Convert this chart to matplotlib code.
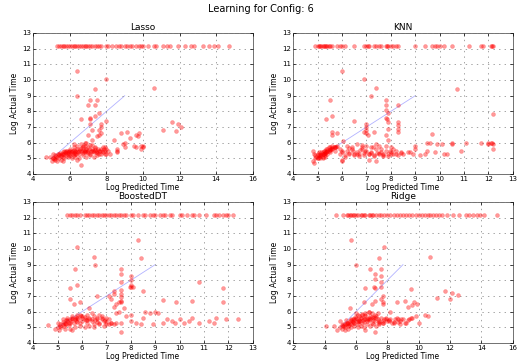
import matplotlib
matplotlib.use("Agg")
import matplotlib.pyplot as plt

plt.style.use("classic")

TIMEOUT = 12.2  # log time of runs that hit the limit

# --- Lasso ---
lasso_top_x = [5.3, 5.4, 5.5, 5.6, 5.7, 5.8, 5.9, 6.0, 6.1, 6.2, 6.3, 6.4, 6.5, 6.6,
               6.7, 6.8, 6.9, 7.0, 7.1, 7.2, 7.4, 7.5, 7.6, 7.7, 8.0, 8.1, 8.3, 8.5,
               8.7, 8.8, 9.0, 9.1, 9.3, 9.4, 9.6, 9.8, 9.9, 10.0, 10.3, 10.6, 10.7,
               11.1, 11.3, 11.5, 11.9, 12.3, 12.6, 12.8, 13.3, 13.6, 13.9, 14.1, 14.7]
lasso_x = [6.4, 8.0, 10.6, 7.4, 6.4, 7.1, 7.5, 7.0, 7.4, 7.6, 7.4, 7.1, 7.1, 6.6, 8.0,
           7.1, 7.7, 7.7, 7.6, 7.7, 7.6, 7.5, 7.2, 7.0, 11.6, 11.9, 12.1, 11.8, 11.1,
           9.6, 9.7, 9.8, 9.1, 8.8, 9.3, 7.2, 8.4, 10.0, 9.0, 8.6, 9.6, 9.9, 7.9, 8.2,
           6.6, 6.2, 6.9,
           5.0, 5.1, 5.2, 5.3, 5.4, 5.5, 5.6, 5.7, 5.8, 5.9, 6.0, 6.1, 6.2, 6.3, 6.4,
           6.5, 6.6, 6.7, 6.8, 6.9, 7.0, 7.1, 7.2, 7.3, 7.4, 7.5, 7.6, 7.7, 7.8, 7.9,
           8.0, 5.2, 5.4, 5.6, 5.8, 6.0, 6.2, 6.4, 6.6, 6.8, 5.5, 5.7, 5.9, 6.1, 6.3,
           6.5, 6.7, 6.9, 7.1, 7.3, 7.5, 7.7, 5.3, 5.6, 6.4, 6.5, 6.0, 5.9, 6.1, 6.3,
           6.7, 7.0, 7.2, 6.8, 4.7, 4.9, 5.1, 7.8, 8.1, 8.6, 8.6, 8.9, 9.0, 9.5, 9.9,
           10.0, 5.05, 5.15, 5.25, 5.35, 5.45, 5.55, 5.65, 5.75, 5.85, 5.95, 6.05,
           6.15, 6.25, 6.35, 6.45, 6.55, 6.65, 6.75, 6.85, 6.95, 7.05, 7.15, 7.25,
           7.35, 7.45, 7.55, 7.65, 7.75, 7.85, 7.95,
           5.2, 5.4, 5.6, 5.8, 6.0, 6.2, 6.4, 6.6, 6.8, 7.0,
           7.2, 7.4, 7.6, 5.5, 5.9, 6.3, 6.7, 7.1, 7.5, 7.9]
lasso_y = [10.6, 10.1, 9.5, 9.4, 9.0, 8.7, 8.7, 8.4, 8.4, 7.9, 7.7, 7.6, 7.5, 7.5, 7.4,
           7.2, 7.2, 7.0, 6.8, 6.6, 6.5, 6.4, 6.8, 6.5, 7.3, 7.2, 7.0, 6.75, 6.8,
           6.5, 6.4, 6.6, 6.7, 6.6, 6.3, 6.2, 6.2, 5.8, 5.7, 5.6, 5.7, 5.6, 5.3, 5.3,
           4.6, 5.9, 6.0,
           4.8, 5.0, 4.9, 5.1, 5.0, 5.2, 5.1, 5.3, 5.2, 5.4, 5.3, 5.5, 5.2, 5.4, 5.6,
           5.3, 5.5, 5.7, 5.4, 5.6, 5.5, 5.3, 5.6, 5.4, 5.7, 5.5, 5.3, 5.6, 5.4, 5.5,
           5.6, 5.2, 5.3, 5.4, 5.5, 5.6, 5.7, 5.8, 5.9, 6.0, 4.9, 5.0, 5.1, 5.0, 5.1,
           5.0, 5.2, 5.1, 5.2, 5.1, 5.2, 5.3, 4.8, 4.8, 4.9, 5.45, 5.15, 5.35, 5.25,
           5.45, 5.35, 5.75, 5.85, 5.8, 5.1, 5.1, 5.3, 5.7, 5.5, 5.5, 5.4, 5.9, 6.0,
           5.8, 5.8, 5.75, 5.05, 4.95, 5.15, 5.25, 5.35, 5.3, 5.45, 5.4, 5.5, 5.45,
           5.4, 5.45, 5.55, 5.3, 5.4, 5.6, 5.45, 5.5, 5.55, 5.4, 5.6, 5.45, 5.5,
           5.55, 5.4, 5.6, 5.5, 5.45, 5.6, 5.3,
           5.05, 5.2, 5.3, 5.35, 5.5, 5.35, 5.45, 5.65, 5.5, 5.35,
           5.45, 5.65, 5.5, 5.15, 5.2, 5.25, 5.8, 5.85, 5.35, 5.7]

# --- KNN ---
knn_top_x = [4.9, 5.0, 5.05, 5.1, 5.15, 5.2, 5.25, 5.3, 5.35, 5.4, 5.45, 5.5, 5.6,
             5.8, 5.9, 6.0, 6.1, 6.5, 6.9, 7.0, 7.05, 7.1, 7.3, 7.4, 7.5, 7.6, 7.8,
             7.85, 7.9, 8.0, 8.1, 8.2, 8.3, 9.0, 9.4, 9.7, 9.8, 9.9, 10.0, 10.2,
             10.5, 11.2, 11.7, 11.8, 12.1, 12.15, 12.2]
knn_x = [6.0, 6.9, 7.4, 7.2, 10.7, 5.5, 7.8, 7.8, 8.3, 7.8, 7.9, 7.8, 7.85, 7.9, 5.35,
         5.6, 6.5, 7.0, 7.0, 7.0, 7.0, 7.05, 6.9, 8.3, 8.3, 8.3, 8.3, 7.9, 7.8, 7.9,
         7.3, 5.8, 5.6, 5.6, 9.7, 12.2, 6.05, 6.0, 6.0, 7.4, 7.1,
         4.8, 4.85, 4.8, 4.9, 4.95, 5.0, 5.05, 5.1, 5.15, 5.2, 5.25, 5.3, 5.35, 5.4,
         5.45, 5.5, 5.55, 5.6, 5.65, 5.7, 5.75, 5.8, 5.1, 5.2, 5.3, 5.4, 5.5, 5.6,
         5.0, 5.1, 5.2, 5.3, 5.4, 5.5, 5.2, 5.3, 5.15, 5.25, 5.35, 5.45, 4.85, 5.05,
         5.9, 6.0, 6.1, 6.2, 6.3, 6.4, 6.5, 6.6, 6.7, 6.8, 6.9, 7.0, 7.1, 7.2, 7.3,
         7.4, 7.5, 7.6, 7.7, 7.8, 7.9, 8.0, 8.1, 8.2, 8.3, 8.4, 8.5, 6.2, 6.4, 6.6,
         6.8, 7.0, 7.2, 7.4, 7.6, 7.8, 8.0, 8.2, 6.1, 6.3, 6.5, 6.7, 6.9, 7.1, 7.3,
         7.5, 7.7, 7.9, 8.1, 6.45, 6.95, 7.45, 7.95, 5.9, 6.3, 6.75, 7.25,
         10.5, 10.5, 11.1, 11.7, 12.0, 12.1, 12.15, 12.2, 12.0, 10.9, 10.2, 10.1,
         9.9, 9.5, 9.6, 10.3, 9.0, 9.0, 9.2, 9.4, 9.5, 9.8, 8.9, 8.7, 12.2,
         5.0, 5.1, 5.2, 5.3, 5.4, 5.5, 5.6, 5.7, 4.9, 5.0,
         6.0, 6.6, 7.2, 7.7, 8.0, 8.4, 8.8, 6.8, 7.5, 5.7]
knn_y = [10.6, 10.1, 9.5, 9.0, 9.4, 8.7, 8.7, 8.4, 8.4, 8.1, 7.9, 7.6, 7.5, 7.3, 7.5,
         7.7, 7.4, 7.2, 7.0, 6.8, 6.6, 6.5, 6.7, 7.3, 7.1, 6.9, 6.7, 6.9, 6.5, 6.2,
         6.7, 6.6, 6.7, 6.5, 6.55, 7.85, 6.1, 4.9, 4.8, 4.8, 4.9,
         4.8, 4.7, 5.5, 5.0, 5.1, 5.0, 5.1, 5.15, 5.2, 5.25, 5.3, 5.35, 5.4, 5.45,
         5.5, 5.55, 5.6, 5.65, 5.7, 5.7, 5.75, 5.8, 5.3, 5.4, 5.5, 5.6, 5.7, 5.8,
         5.2, 5.05, 5.1, 5.2, 5.3, 5.4, 5.0, 5.1, 5.4, 5.5, 5.6, 5.7, 5.3, 5.4,
         5.3, 5.4, 5.2, 5.5, 5.3, 5.6, 5.2, 5.4, 5.3, 5.7, 5.2, 5.5, 5.3, 5.4, 5.2,
         5.6, 5.3, 5.4, 5.2, 5.5, 5.3, 5.4, 5.6, 5.3, 5.2, 5.4, 5.3, 5.8, 5.7, 5.9,
         5.6, 5.8, 5.7, 5.9, 5.6, 5.8, 5.7, 5.5, 5.1, 5.35, 5.25, 5.15, 5.35, 5.25,
         5.15, 5.35, 5.25, 5.15, 5.25, 5.45, 5.45, 5.35, 5.45, 5.6, 5.65, 5.55, 5.75,
         5.9, 6.0, 6.0, 6.0, 5.9, 6.0, 5.95, 5.6, 6.0, 5.5, 5.3, 5.9, 5.9, 6.0, 6.0,
         5.3, 5.8, 5.6, 5.2, 5.3, 5.5, 5.4, 5.3, 5.4, 5.9,
         5.05, 5.2, 5.3, 5.35, 5.5, 5.6, 5.6, 5.75, 5.2, 5.3,
         5.5, 5.25, 5.35, 5.15, 5.25, 5.35, 5.4, 5.85, 5.8, 5.5]

# --- BoostedDT ---
boost_top_x = [5.4, 5.5, 5.6, 5.7, 5.8, 5.9, 6.1, 6.2, 6.3, 6.4, 6.5, 6.6, 6.7, 6.8,
               6.9, 7.0, 7.1, 7.2, 7.3, 7.4, 7.5, 7.6, 7.7, 7.8, 8.0, 8.1, 8.3, 8.5,
               8.6, 8.8, 8.9, 9.0, 9.2, 9.3, 9.4, 9.6, 9.7, 10.0, 10.1, 10.3, 10.5,
               10.6, 10.8, 11.1, 11.4, 11.5, 11.6, 11.8, 11.9, 12.0, 12.2]
boost_x = [5.8, 8.3, 8.4, 6.5, 6.55, 5.7, 7.6, 7.6, 8.0, 8.0, 7.6, 8.0, 8.0, 7.95, 8.1,
           7.6, 7.3, 7.6, 7.6, 7.6, 7.6, 7.5, 7.4, 7.3, 5.8, 5.5, 5.5, 5.65, 5.9, 7.1,
           7.7, 10.8, 11.8, 11.8, 10.5, 9.85, 9.3, 8.5, 7.3, 6.6, 7.2, 6.3, 7.6,
           4.9, 5.0, 5.05, 5.1, 5.15, 5.2, 5.25, 5.3, 5.35, 5.4, 5.45, 5.5, 5.55, 5.6,
           5.65, 5.7, 5.75, 5.8, 5.85, 5.9, 5.95, 6.0, 6.1, 6.2, 6.3, 6.4, 6.5, 6.6,
           6.7, 6.8, 6.9, 7.0, 7.1, 7.2, 5.2, 5.4, 5.6, 5.8, 6.0, 6.2, 6.4, 6.6, 6.8,
           7.0, 5.3, 5.5, 5.7, 5.9, 6.1, 6.3, 6.5, 6.7, 6.9, 7.1, 5.1, 5.6, 5.35,
           5.75, 6.15, 6.55, 6.95, 5.0, 5.45,
           8.6, 8.8, 9.0, 9.1, 8.5, 9.5, 9.7, 10.0, 10.2, 10.4, 10.5, 10.8, 11.2, 11.4,
           11.5, 11.9, 12.4, 9.8, 9.3, 8.9, 8.4, 7.3, 7.6, 8.0, 8.2, 7.4, 7.5, 8.0,
           7.8, 4.6,
           5.2, 5.4, 5.6, 5.8, 6.0, 6.2, 6.4, 6.6, 6.8, 7.0,
           7.2, 7.4, 5.3, 5.5, 5.7, 5.9, 6.1, 6.3, 6.5, 6.7]
boost_y = [10.1, 10.6, 9.4, 9.5, 9.0, 8.7, 8.7, 8.4, 8.3, 8.0, 7.9, 7.7, 7.55, 7.6,
           7.6, 7.4, 7.1, 7.1, 6.9, 6.7, 6.6, 6.6, 6.5, 6.3, 7.7, 7.5, 6.8, 6.5, 6.6,
           7.0, 6.2, 7.9, 7.5, 6.6, 6.7, 6.6, 6.75, 7.3, 7.3, 7.0, 6.8, 6.2, 4.7,
           4.9, 5.0, 4.8, 5.1, 5.0, 5.2, 5.1, 5.3, 5.2, 5.4, 5.3, 5.5, 5.4, 5.6,
           5.3, 5.5, 5.4, 5.6, 5.5, 5.3, 5.7, 5.4, 5.5, 5.3, 5.6, 5.4, 5.2, 5.5,
           5.3, 5.6, 5.4, 5.2, 5.5, 5.3, 5.5, 5.6, 5.7, 5.8, 5.7, 5.8, 5.9, 5.6, 5.7,
           5.6, 4.9, 4.9, 5.0, 5.1, 5.0, 5.1, 5.0, 5.2, 5.1, 5.2, 5.2, 4.8, 5.45,
           5.65, 5.45, 5.45, 5.45, 5.25, 5.15,
           6.0, 5.9, 6.0, 5.9, 5.6, 5.5, 5.4, 5.5, 5.3, 5.4, 5.6, 5.3, 5.4, 5.3,
           5.6, 5.5, 5.55, 5.3, 5.3, 5.2, 5.2, 5.2, 5.3, 5.4, 5.3, 5.9, 5.95, 5.8,
           5.7, 5.15,
           5.35, 5.45, 5.5, 5.35, 5.6, 5.45, 5.55, 5.35, 5.5, 5.35,
           5.3, 5.25, 5.2, 5.3, 5.5, 5.75, 5.65, 5.55, 5.7, 5.75]

# --- Ridge ---
ridge_top_x = [4.7, 5.2, 5.4, 5.5, 5.6, 5.7, 5.8, 5.9, 6.0, 6.1, 6.3, 6.4, 6.5, 6.6,
               6.8, 6.9, 7.0, 7.1, 7.3, 7.5, 7.6, 7.8, 8.0, 8.2, 8.4, 8.6, 8.8, 9.0,
               9.2, 9.4, 9.6, 9.8, 10.0, 10.2, 10.4, 10.6, 10.7, 10.9, 11.1, 11.3,
               11.5, 11.8, 12.2, 12.6, 13.0, 13.2, 13.5, 13.7, 13.9, 14.2, 15.0]
ridge_x = [5.7, 7.8, 10.7, 7.5, 6.0, 6.9, 7.6, 7.2, 7.6, 7.2, 7.6, 7.6, 7.15, 7.2, 6.6,
           9.5, 7.7, 7.6, 7.7, 7.7, 7.2, 7.0, 6.5, 8.2, 11.7, 11.2, 12.0, 12.1, 12.5,
           9.7, 9.9, 9.6, 9.1, 8.6, 9.3, 5.6, 6.1, 7.2, 10.4, 10.6, 9.5, 8.8, 10.0,
           4.1, 4.6, 6.6,
           4.8, 5.0, 5.1, 5.2, 5.3, 5.4, 5.5, 5.6, 5.7, 5.8, 5.9, 6.0, 6.1, 6.2, 6.3,
           6.4, 6.5, 6.6, 6.7, 6.8, 6.9, 7.0, 7.1, 7.2, 7.3, 7.4, 7.5, 7.6, 7.7, 7.8,
           7.9, 8.0, 8.2, 8.4, 8.6, 8.8, 9.0, 9.2, 9.4, 9.6, 9.8, 5.2, 5.4, 5.6, 5.8,
           6.0, 6.2, 6.4, 6.6, 6.8, 7.0, 7.2, 7.4, 5.3, 5.5, 5.7, 5.9, 6.1, 6.3, 6.5,
           6.7, 6.9, 7.1, 7.3, 7.5, 7.7, 5.1, 5.4, 5.8, 6.2, 6.6, 5.35, 5.65, 5.95,
           6.25, 6.55, 6.85, 7.15, 7.45, 8.1, 8.3, 8.5, 8.7, 8.9, 9.1, 9.3, 5.0,
           5.25, 5.55, 5.85, 6.15, 6.45, 6.75, 7.05,
           5.3, 5.5, 5.7, 5.9, 6.1, 6.3, 6.5, 6.7, 6.9, 7.1,
           7.3, 7.5, 7.7, 7.9, 8.1, 8.4, 8.7, 6.0, 6.4, 6.8]
ridge_y = [10.6, 10.1, 9.5, 9.4, 9.0, 8.7, 8.7, 8.4, 8.3, 8.1, 7.9, 7.6, 7.6, 7.5, 7.5,
           7.45, 7.0, 6.8, 6.6, 6.5, 6.7, 6.5, 6.6, 6.0, 7.3, 6.85, 6.8, 7.2, 7.05,
           6.6, 6.5, 6.4, 6.7, 6.6, 6.3, 6.2, 5.8, 4.7, 5.8, 5.7, 5.6, 5.2, 5.3,
           5.05, 5.1, 4.8,
           4.8, 5.0, 4.9, 5.1, 5.0, 5.2, 5.1, 5.3, 5.2, 5.4, 5.3, 5.5, 5.2, 5.4, 5.6,
           5.3, 5.5, 5.7, 5.4, 5.6, 5.5, 5.3, 5.6, 5.4, 5.7, 5.5, 5.3, 5.6, 5.4, 5.5,
           5.6, 5.4, 5.5, 5.3, 5.6, 5.4, 5.5, 5.3, 5.5, 5.6, 5.7, 5.2, 5.3, 5.4, 5.5,
           5.6, 5.7, 5.8, 5.9, 6.0, 5.9, 5.8, 5.9, 4.8, 4.9, 5.0, 5.1, 5.0, 5.1, 5.0,
           5.2, 5.1, 5.2, 5.1, 5.2, 5.3, 5.15, 5.25, 5.35, 5.45, 5.55, 5.45, 5.55,
           5.65, 5.4, 5.75, 5.45, 5.65, 5.35, 5.45, 5.25, 5.5, 5.35, 5.55, 5.3, 5.45,
           5.4, 5.05, 5.15, 5.25, 5.35, 5.45, 5.55, 5.65,
           5.2, 5.3, 5.45, 5.5, 5.4, 5.6, 5.35, 5.55, 5.7, 5.45,
           5.6, 5.4, 5.3, 5.5, 5.4, 5.35, 5.55, 5.9, 5.85, 5.95]

panels = [
    ("Lasso", lasso_x, lasso_y, lasso_top_x, (4, 16), 2),
    ("KNN", knn_x, knn_y, knn_top_x, (4, 13), 1),
    ("BoostedDT", boost_x, boost_y, boost_top_x, (4, 13), 1),
    ("Ridge", ridge_x, ridge_y, ridge_top_x, (2, 16), 2),
]

fig = plt.figure(figsize=(5.21, 3.64), dpi=100, facecolor="white")
fig.suptitle("Learning for Config: 6", fontsize=7, y=0.99)

positions = [[0.064, 0.522, 0.421, 0.387], [0.563, 0.522, 0.421, 0.387],
             [0.064, 0.058, 0.421, 0.387], [0.563, 0.058, 0.421, 0.387]]

for pos, (name, xs, ys, top_x, xlim, step) in zip(positions, panels):
    ax = fig.add_axes(pos)
    all_x = xs + top_x
    all_y = ys + [TIMEOUT] * len(top_x)
    ax.scatter(all_x, all_y, s=8, c="red", edgecolors="red", linewidths=0.3,
               alpha=0.4, zorder=3)
    ax.plot([5, 9], [5, 9], color="blue", alpha=0.3, linewidth=0.6, zorder=2)
    ax.set_xlim(xlim)
    ax.set_ylim(4, 13)
    ax.set_xticks(range(xlim[0], xlim[1] + 1, step))
    ax.set_yticks(range(4, 14))
    ax.grid(True, linestyle=":", color="0.5", linewidth=0.5)
    ax.tick_params(labelsize=5, length=2, width=0.5, pad=1.5)
    for sp in ax.spines.values():
        sp.set_linewidth(0.6)
        sp.set_color("0.35")
    ax.set_title(name, fontsize=6.5, pad=2)
    ax.set_xlabel("Log Predicted Time", fontsize=5.5, labelpad=1)
    ax.set_ylabel("Log Actual Time", fontsize=5.5, labelpad=2)

fig.savefig("out.png", dpi=100, facecolor="white")
